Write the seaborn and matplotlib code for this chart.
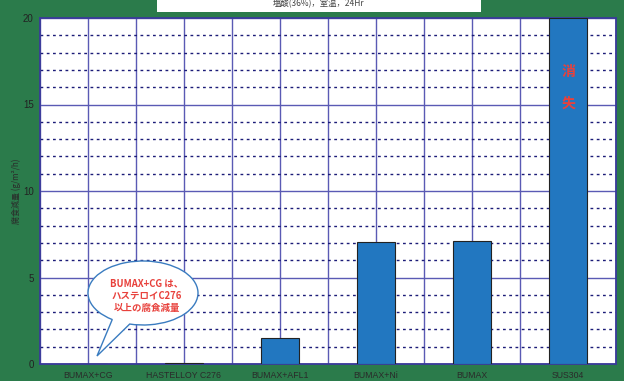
import numpy as np
import pandas as pd
import matplotlib
matplotlib.use("Agg")
import matplotlib.pyplot as plt
import seaborn as sns
from matplotlib.path import Path
from matplotlib.patches import PathPatch, Rectangle
from matplotlib.transforms import Affine2D, IdentityTransform

categories = ["BUMAX+CG", "HASTELLOY C276", "BUMAX+AFL1", "BUMAX+Ni", "BUMAX", "SUS304"]
values = [0.02, 0.05, 1.5, 7.05, 7.1, 20.0]
yticks = [0, 5, 10, 15, 20]
title = "塩酸(36%)，室温，24Hr"
ylabel = "腐食減量 (g/m²/h)"
bubble_lines = ["BUMAX+CG は、", "ハステロイC276", "以上の腐食減量"]
vanished = ["消", "失"]

sns.set_theme(style="white")
plt.rcParams['font.family'] = ['Noto Sans CJK JP', 'DejaVu Sans']

GREEN = "#2b7b4b"
fig = plt.figure(figsize=(6.24, 3.81), dpi=100, facecolor=GREEN)
ax = fig.add_axes([40/624, 17/381, 576/624, 346/381])
ax.set_facecolor("white")

df = pd.DataFrame({"cat": categories, "val": values})
sns.barplot(data=df, x="cat", y="val", ax=ax, width=0.4, color="#2277c0",
            saturation=1, edgecolor="#222222", linewidth=0.8, zorder=3)

ax.set_xlim(-0.5, len(categories) - 0.5)
ax.set_ylim(0, 20)
ax.set_yticks(yticks)
ax.set_yticks(np.arange(0, 21, 1), minor=True)
ax.set_xticks(np.arange(len(categories)))
ax.set_xticks(np.arange(-0.5, len(categories), 1.0), minor=True)
ax.set_xticklabels(categories, fontsize=6.3, color="#2a2a2a", family=['Liberation Sans', 'DejaVu Sans'])
ax.set_yticklabels([str(t) for t in yticks], fontsize=7, color="#222222", family=['Liberation Sans', 'DejaVu Sans'])
ax.tick_params(axis="both", which="both", length=0)
ax.tick_params(axis="x", pad=5)
ax.tick_params(axis="y", pad=4.5)
ax.set_xlabel("")
ax.set_ylabel(ylabel, fontsize=5.8, color="#2a2a2a")
ax.yaxis.set_label_coords(-0.033, 0.5)

ax.xaxis.grid(True, which="both", color="#5a5ab4", linewidth=1.0, linestyle="-")
ax.yaxis.grid(True, which="major", color="#5a5ab4", linewidth=1.0, linestyle="-")
ax.yaxis.grid(True, which="minor", color="#1c1c78", linewidth=1.0, linestyle=(0, (2, 2.5)))
ax.set_axisbelow(True)
for s in ax.spines.values():
    s.set_color("#3a3a9a")
    s.set_linewidth(1.3)

# vanished text on SUS304 bar
for ch, yv in zip(vanished, [16.85, 15.05]):
    ax.text(5, yv, ch, ha="center", va="center", color="#e8413c",
            fontsize=10, fontweight="bold", zorder=5)

# title box
fig.patches.append(Rectangle((157/624, 369/381), 324/624, 12/381, transform=fig.transFigure,
                             facecolor="white", edgecolor="none", zorder=0))
fig.text(319/624, 377.5/381, title, ha="center", va="center", fontsize=6, color="#444444")

# speech bubble (in display pixels)
arc = Path.arc(256, 596)
verts = Affine2D().scale(55, 32).translate(143, 88).transform(arc.vertices)
verts = np.vstack([verts, [[97, 25], verts[0]]])
codes = list(arc.codes) + [Path.LINETO, Path.CLOSEPOLY]
bubble = PathPatch(Path(verts, codes), transform=IdentityTransform(),
                   facecolor="white", edgecolor="#3a7cc0", linewidth=1.0, zorder=10)
fig.patches.append(bubble)
ys = [283, 296, 308]
for line, y in zip(bubble_lines, ys):
    fig.text(147/624, (381 - y)/381, line, ha="center", va="center",
             fontsize=6.8, fontweight="bold", color="#e8413c", zorder=11)

fig.savefig("out.png", dpi=100, facecolor=GREEN)
